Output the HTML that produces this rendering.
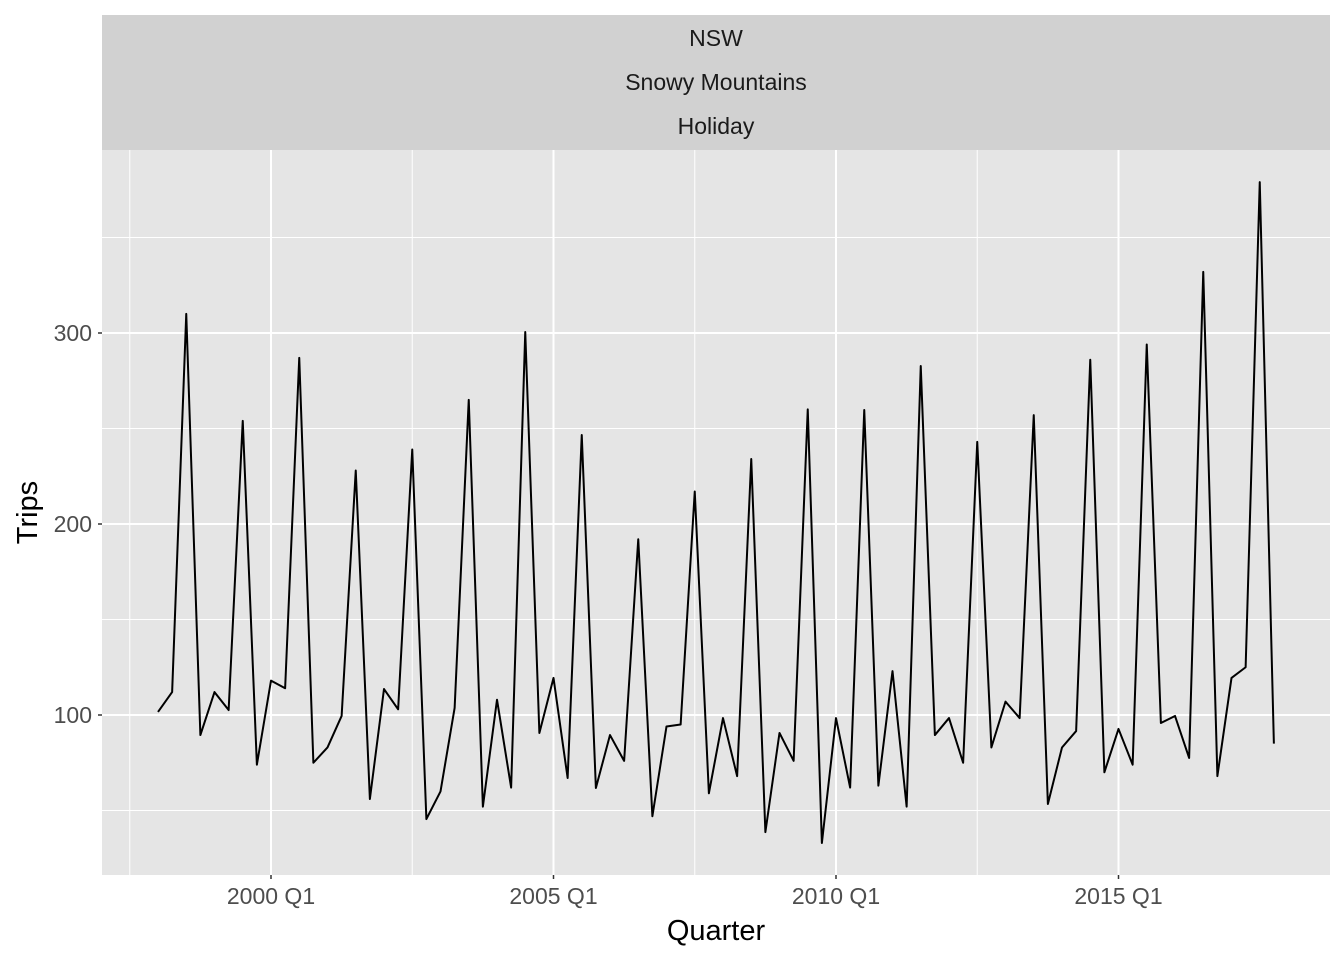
<!DOCTYPE html>
<html><head><meta charset="utf-8"><style>
body{margin:0;background:#fff;}
svg{display:block;font-family:"Liberation Sans",Arial,sans-serif;}
</style></head><body>
<svg id="chart" width="1344" height="960"></svg>
<script>
const quarters = [];
for (let y = 1998; y <= 2017; y++) for (let q = 1; q <= 4; q++) quarters.push(y + (q - 1) / 4);
const trips = [101.6,112,310,89.5,112,102.6,254,74,118,114,287,75,83,99.5,228,56,113.6,103,239,45.5,60,103.7,265,52,108,62,300.5,90.6,119.4,67,246.6,61.8,89.5,76,192,47,94,95,217,59,98.4,68,234,38.7,90.6,76,260,33,98.4,62,259.7,63,123,52,282.7,89.5,98.4,75,243,83,107,98.4,257,53.4,83,91.6,286,70,92.7,74,294,95.8,99.5,77.5,332,68,119.4,125,379,85];
const yTicks = [100,200,300];
const yMinor = [50,150,250,350];
const xTicks = [2000,2005,2010,2015];
const xTickLabels = ["2000 Q1","2005 Q1","2010 Q1","2015 Q1"];
const xMinor = [1997.5,2002.5,2007.5,2012.5];
const stripLabels = ["NSW","Snowy Mountains","Holiday"];

const P = {l:102,r:1330,t:150,b:875};
const sx = v => 271 + (v - 2000) * 56.5;
const sy = v => 715 - (v - 100) * 1.91;
const svg = document.getElementById('chart');
const NS = 'http://www.w3.org/2000/svg';
function mk(tag, attrs, parent){const e=document.createElementNS(NS,tag);for(const k in attrs)e.setAttribute(k,attrs[k]);(parent||svg).appendChild(e);return e;}

const strip = mk('rect',{x:P.l,y:15,width:P.r-P.l,height:135,fill:'#d1d1d1'});


stripLabels.forEach((s,i)=>{
  const t=mk('text',{x:(P.l+P.r)/2,y:46+i*44,'text-anchor':'middle','font-size':'23',fill:'#1a1a1a'});
  t.textContent=s;
  
  
});
const panel = mk('rect',{x:P.l,y:P.t,width:P.r-P.l,height:P.b-P.t,fill:'#e5e5e5'});



yMinor.forEach(v=>{const l=mk('line',{x1:P.l,x2:P.r,y1:sy(v),y2:sy(v),stroke:'#fff','stroke-width':1});
  });
xMinor.forEach(v=>{const l=mk('line',{x1:sx(v),x2:sx(v),y1:P.t,y2:P.b,stroke:'#fff','stroke-width':1});
  });
yTicks.forEach(v=>{
  const l=mk('line',{x1:P.l,x2:P.r,y1:sy(v),y2:sy(v),stroke:'#fff','stroke-width':2});
  
  const tk=mk('line',{x1:P.l-4,x2:P.l,y1:sy(v),y2:sy(v),stroke:'#333','stroke-width':1.5});
  
  const t=mk('text',{x:P.l-10,y:sy(v)+8,'text-anchor':'end','font-size':'23',fill:'#4d4d4d'});
  t.textContent=v;
});
xTicks.forEach((v,i)=>{
  const l=mk('line',{x1:sx(v),x2:sx(v),y1:P.t,y2:P.b,stroke:'#fff','stroke-width':2});
  
  const tk=mk('line',{x1:sx(v),x2:sx(v),y1:P.b,y2:P.b+4,stroke:'#333','stroke-width':1.5});
  
  const t=mk('text',{x:sx(v),y:P.b+29,'text-anchor':'middle','font-size':'23',fill:'#4d4d4d'});
  t.textContent=xTickLabels[i];
});
const pts = quarters.map((q,i)=>sx(q).toFixed(2)+','+sy(trips[i]).toFixed(2)).join(' ');
const line = mk('polyline',{points:pts,fill:'none',stroke:'#000','stroke-width':2,'stroke-linejoin':'round'});



const xt=mk('text',{x:(P.l+P.r)/2,y:940,'text-anchor':'middle','font-size':'29',fill:'#000'});
xt.textContent='Quarter';
const yt=mk('text',{x:0,y:0,'text-anchor':'middle','font-size':'29',fill:'#000',transform:'translate(37,'+((P.t+P.b)/2)+') rotate(-90)'});
yt.textContent='Trips';
</script>
</body></html>
